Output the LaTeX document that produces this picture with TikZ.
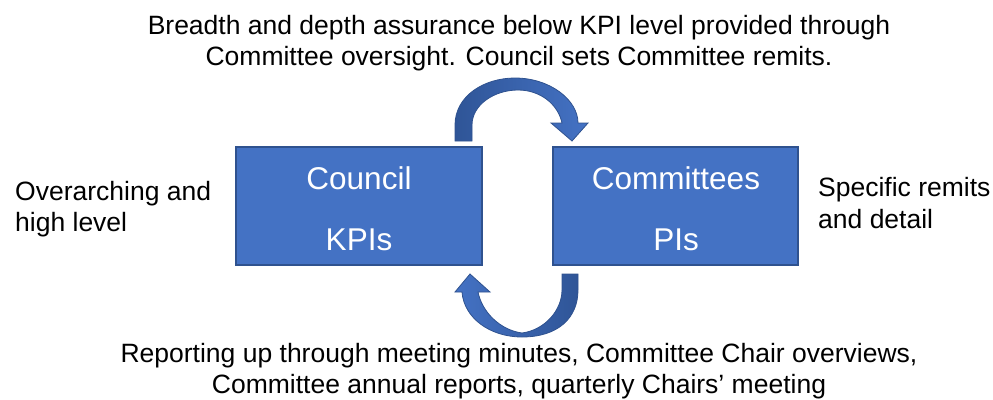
\documentclass[tikz,border=0pt]{standalone}
\usepackage{fontspec}
\setmainfont{Liberation Sans}
\definecolor{boxblue}{HTML}{4472C4}
\definecolor{boxedge}{HTML}{2F528F}
\definecolor{darkblue}{HTML}{2F5597}
\begin{document}
\begin{tikzpicture}[x=1pt,y=-1pt,
  box/.style={draw=boxedge,line width=1.2pt,fill=boxblue},
  boxtext/.style={text=white,font=\fontsize{31.5}{36}\selectfont,anchor=center,inner sep=0pt},
  label/.style={font=\fontsize{26.5}{31}\selectfont,align=center,anchor=center,inner sep=0pt},
  side/.style={font=\fontsize{26.5}{31.5}\selectfont,align=left,inner sep=0pt},
  arrowshape/.style={draw=boxedge,line width=0.8pt}]
\useasboundingbox (0,0) rectangle (993,399);
\draw[box] (236,147) rectangle (482,265);
\draw[box] (553,147) rectangle (798,265);
\node[boxtext] (council) at (359,178) {Council};
\node[boxtext] (kpis) at (359,240) {KPIs};
\node[boxtext] (committees) at (676,178) {Committees};
\node[boxtext] (pis) at (676,240) {PIs};
\node[label] (top) at (519,43) {Breadth and depth assurance below KPI level provided through\\Committee oversight. Council sets Committee remits.};
\node[label] (bottom) at (519,371) {Reporting up through meeting minutes, Committee Chair overviews,\\Committee annual reports, quarterly Chairs’ meeting};
\node[side,anchor=west] (left) at (15,209) {Overarching and\\high level};
\node[side,anchor=west] (right) at (818,203) {Specific remits\\and detail};
% top curved arrow
\shade[left color=darkblue,right color=boxblue] (455,141) -- (455,125) .. controls (455,96) and (484,78) .. (515,78) .. controls (550,78) and (578,100) .. (578,123) -- (588,123) -- (572,141) -- (551,123) -- (562,123) .. controls (558,104) and (540,90) .. (518,90) .. controls (494,90) and (472,105) .. (472,125) -- (472,141) -- cycle;
\draw[arrowshape] (455,141) -- (455,125) .. controls (455,96) and (484,78) .. (515,78) .. controls (550,78) and (578,100) .. (578,123) -- (588,123) -- (572,141) -- (551,123) -- (562,123) .. controls (558,104) and (540,90) .. (518,90) .. controls (494,90) and (472,105) .. (472,125) -- (472,141) -- cycle;
% bottom curved arrow
\shade[left color=boxblue,right color=darkblue] (562,274) -- (578,274) -- (578,290) .. controls (578,318) and (558,337) .. (522,337) .. controls (490,337) and (464,318) .. (462,292) -- (455,292) -- (470,274) -- (490,292) -- (478,292) .. controls (482,312) and (500,330) .. (522,333) .. controls (545,330) and (562,310) .. (562,290) -- cycle;
\draw[arrowshape] (562,274) -- (578,274) -- (578,290) .. controls (578,318) and (558,337) .. (522,337) .. controls (490,337) and (464,318) .. (462,292) -- (455,292) -- (470,274) -- (490,292) -- (478,292) .. controls (482,312) and (500,330) .. (522,333) .. controls (545,330) and (562,310) .. (562,290) -- cycle;
\end{tikzpicture}
\end{document}
